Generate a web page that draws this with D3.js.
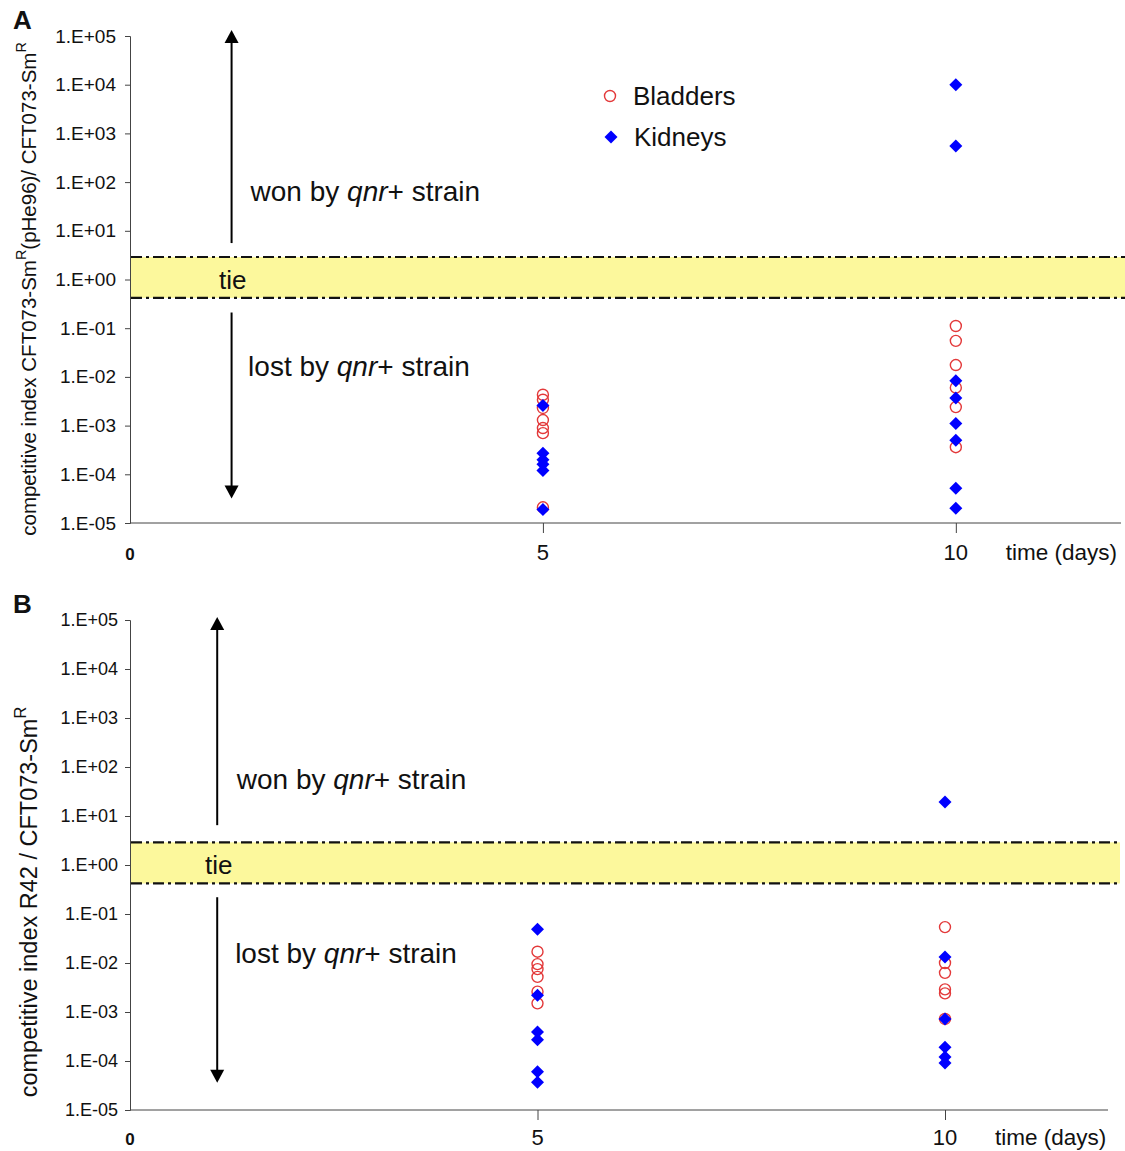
<!DOCTYPE html>
<html lang="en">
<head>
<meta charset="utf-8" />
<title>Competitive index</title>
<script src="https://cdn.jsdelivr.net/npm/d3@7"></script>
<style>
  body { margin: 0; background: #fff; }
  svg text { font-family: "Liberation Sans", Arial, sans-serif; fill: #111; }
  .axis path, .axis line { stroke: #444; }
  .axis text { font-family: "Liberation Sans", Arial, sans-serif; fill: #111; }
</style>
</head>
<body>
<script>
// ---- data ----
var yTickValues = [1e5, 1e4, 1e3, 1e2, 1e1, 1e0, 1e-1, 1e-2, 1e-3, 1e-4, 1e-5];
var yTickLabels = ['1.E+05', '1.E+04', '1.E+03', '1.E+02', '1.E+01', '1.E+00',
                   '1.E-01', '1.E-02', '1.E-03', '1.E-04', '1.E-05'];
var xTickDays = [5, 10];
var tieBand = [0.42, 2.9];   // lower / upper limit of the "tie" zone

// panel A
var bladdersA_day5  = [0.0043, 0.0034, 0.0023, 0.0013, 0.00089, 0.0007, 2.1e-5];
var kidneysA_day5   = [0.0026, 2.7e-4, 2.0e-4, 1.6e-4, 1.2e-4, 1.9e-5];
var bladdersA_day10 = [0.111, 0.055, 0.0175, 0.006, 0.0024, 3.6e-4];
var kidneysA_day10  = [1.0e4, 550, 0.0083, 0.0037, 0.0011, 5.0e-4, 5.2e-5, 2.0e-5];

// panel B
var bladdersB_day5  = [0.017, 0.0095, 0.0075, 0.0052, 0.0026, 0.0015];
var kidneysB_day5   = [0.049, 0.0022, 3.9e-4, 2.7e-4, 6.0e-5, 3.7e-5];
var bladdersB_day10 = [0.054, 0.01, 0.0063, 0.0029, 0.0024, 7.2e-4];
var kidneysB_day10  = [19.4, 0.0133, 7.2e-4, 1.9e-4, 1.2e-4, 9.1e-5];

function pairs(day, values) {
    return values.map(function(v) { return { day: day, value: v }; });
}

var svg = d3.select('body').append('svg')
    .attr('width', 1125)
    .attr('height', 1151);

// square diamond, same width as height
var dr = 6.5;
var diamond = 'M0,' + (-dr) + 'L' + dr + ',0L0,' + dr + 'L' + (-dr) + ',0Z';

function drawPanel(p) {
    var x = d3.scaleLinear().domain([0, 12]).range([p.left, p.right]);
    var y = d3.scaleLog().domain([1e-5, 1e5]).range([p.bottom, p.top]);
    var g = svg.append('g');

    // tie band
    g.append('rect')
        .attr('x', x(0) + 1)
        .attr('y', y(tieBand[1]))
        .attr('width', p.bandRight - x(0) - 1)
        .attr('height', y(tieBand[0]) - y(tieBand[1]))
        .attr('fill', '#fcf89c');
    tieBand.forEach(function(v) {
        g.append('line')
            .attr('x1', x(0) + 1).attr('x2', p.bandRight)
            .attr('y1', y(v)).attr('y2', y(v))
            .attr('stroke', '#111')
            .attr('stroke-width', 2.2)
            .attr('stroke-dasharray', '11,4,3,4');
    });
    g.append('text')
        .attr('x', p.tieX).attr('y', y(1))
        .attr('dy', '.35em')
        .style('font-size', '26px')
        .text('tie');

    // y axis
    var yAxis = d3.axisLeft(y)
        .tickValues(yTickValues)
        .tickFormat(function(d, i) { return yTickLabels[i]; })
        .tickSize(5)
        .tickPadding(p.tickPad);
    var ya = g.append('g')
        .attr('class', 'axis')
        .attr('transform', 'translate(' + x(0) + ',0)')
        .call(yAxis);
    ya.selectAll('text').style('font-size', p.tickFont);

    // x axis (labels drawn below)
    var xa = g.append('g')
        .attr('class', 'axis')
        .attr('transform', 'translate(0,' + y(1e-5) + ')')
        .call(d3.axisBottom(x).tickValues(xTickDays).tickSize(10).tickFormat(''));
    xa.select('.domain').attr('d', 'M' + x(0) + ',0H' + x(12));

    g.selectAll('.xlab')
        .data(xTickDays)
        .enter().append('text')
        .attr('x', function(d) { return x(d); })
        .attr('y', y(1e-5) + p.xLabelDy)
        .attr('text-anchor', 'middle')
        .style('font-size', '22px')
        .text(function(d) { return d; });
    g.append('text')
        .attr('x', x(0)).attr('y', y(1e-5) + p.xLabelDy)
        .attr('text-anchor', 'middle')
        .style('font-size', '17px')
        .style('font-weight', 'bold')
        .text('0');
    g.append('text')
        .attr('x', x(10) + 50).attr('y', y(1e-5) + p.xLabelDy)
        .style('font-size', '22.5px')
        .text('time (days)');

    // arrows
    var ax = x(p.arrowDay);
    function arrow(y1, y2) {
        var dir = y2 < y1 ? -1 : 1;
        g.append('line')
            .attr('x1', ax).attr('x2', ax)
            .attr('y1', y1).attr('y2', y2 - dir * 10)
            .attr('stroke', '#000').attr('stroke-width', 2);
        g.append('path')
            .attr('d', 'M' + ax + ',' + y2 + 'L' + (ax - 7) + ',' + (y2 - dir * 13) +
                       'L' + (ax + 7) + ',' + (y2 - dir * 13) + 'Z')
            .attr('fill', '#000');
    }
    arrow(y(p.upArrowFrom), y(1e5) - p.arrowOver);
    arrow(y(p.downArrowFrom), y(p.downArrowTo));

    function label(t, yy, xx) {
        var tx = g.append('text')
            .attr('x', xx).attr('y', yy)
            .attr('dy', '.35em')
            .style('font-size', '28px');
        tx.append('tspan').text(t + ' by ');
        tx.append('tspan').style('font-style', 'italic').text('qnr');
        tx.append('tspan').text('+ strain');
    }
    label('won', y(p.wonAt), x(p.wonDay));
    label('lost', y(p.lostAt), x(p.lostDay));

    // y axis title
    var ttl = g.append('text')
        .attr('transform', 'translate(' + p.titleX + ',' + p.titleY + ') rotate(-90)')
        .attr('text-anchor', 'middle')
        .style('font-size', p.titleFont);
    p.title.forEach(function(part) {
        var ts = ttl.append('tspan').text(part.t);
        if (part.sup) ts.attr('dy', '-0.7em').style('font-size', '0.7em');
        if (part.back) ts.attr('dy', '0.49em');
    });

    // panel letter
    g.append('text')
        .attr('x', 13).attr('y', p.top - 7)
        .style('font-size', '26px')
        .style('font-weight', 'bold')
        .text(p.letter);

    // data points
    var bl = pairs(5, p.bl5).concat(pairs(10, p.bl10));
    var kd = pairs(5, p.kd5).concat(pairs(10, p.kd10));

    g.selectAll('.bl')
        .data(bl)
        .enter().append('circle')
        .attr('cx', function(d) { return x(d.day); })
        .attr('cy', function(d) { return y(d.value); })
        .attr('r', 5.5)
        .attr('fill', 'none')
        .attr('stroke', '#e3393a')
        .attr('stroke-width', 1.4);

    g.selectAll('.kd')
        .data(kd)
        .enter().append('path')
        .attr('d', diamond)
        .attr('transform', function(d) {
            return 'translate(' + x(d.day) + ',' + y(d.value) + ')';
        })
        .attr('fill', '#0000ff');

    return { x: x, y: y, g: g };
}

var A = drawPanel({
    letter: 'A', left: 130, right: 1121, top: 36, bottom: 523, bandRight: 1125,
    tickFont: '19px', tickPad: 9, xLabelDy: 37, tieX: 219,
    arrowDay: 1.23, arrowOver: 6, upArrowFrom: 5.6, downArrowFrom: 0.21, downArrowTo: 3.2e-5,
    wonAt: 65, wonDay: 1.46, lostAt: 0.0167, lostDay: 1.43,
    titleX: 36, titleY: 289, titleFont: '20.5px',
    title: [{ t: 'competitive index CFT073-Sm' }, { t: 'R', sup: true },
            { t: '(pHe96)/ CFT073-Sm', back: true }, { t: 'R', sup: true }],
    bl5: bladdersA_day5, bl10: bladdersA_day10, kd5: kidneysA_day5, kd10: kidneysA_day10
});

var B = drawPanel({
    letter: 'B', left: 130, right: 1108, top: 620, bottom: 1110, bandRight: 1120,
    tickFont: '18px', tickPad: 7, xLabelDy: 35, tieX: 205,
    arrowDay: 1.07, arrowOver: 3, upArrowFrom: 6.5, downArrowFrom: 0.22, downArrowTo: 3.6e-5,
    wonAt: 57, wonDay: 1.31, lostAt: 0.016, lostDay: 1.29,
    titleX: 37, titleY: 902, titleFont: '23.5px',
    title: [{ t: 'competitive index R42 / CFT073-Sm' }, { t: 'R', sup: true }],
    bl5: bladdersB_day5, bl10: bladdersB_day10, kd5: kidneysB_day5, kd10: kidneysB_day10
});

// legend (panel A)
var legend = svg.append('g').attr('transform', 'translate(610,96)');
legend.append('circle').attr('r', 5.5).attr('fill', 'none')
    .attr('stroke', '#e3393a').attr('stroke-width', 1.4);
legend.append('text').attr('x', 23).attr('dy', '.35em')
    .style('font-size', '26px').text('Bladders');
legend.append('path').attr('d', diamond).attr('fill', '#0000ff')
    .attr('transform', 'translate(1,41)');
legend.append('text').attr('x', 24).attr('y', 41).attr('dy', '.35em')
    .style('font-size', '26px').text('Kidneys');
</script>
</body>
</html>
